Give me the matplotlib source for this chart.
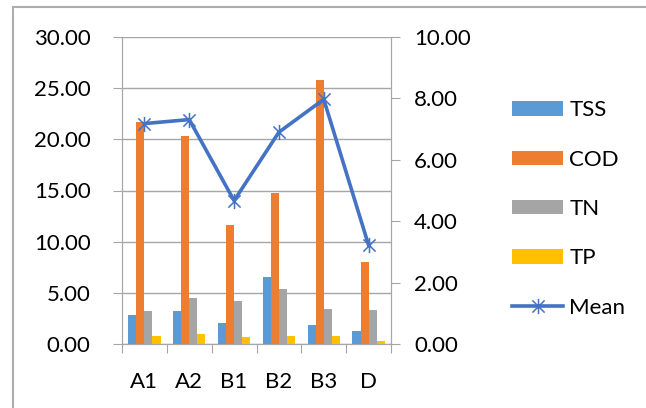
import matplotlib
matplotlib.use("Agg")
import matplotlib.pyplot as plt
import numpy as np
from matplotlib.path import Path
from matplotlib.lines import Line2D

categories = ["A1", "A2", "B1", "B2", "B3", "D"]
tss = [2.83, 3.22, 2.05, 6.51, 1.85, 1.30]
cod = [21.70, 20.34, 11.58, 14.71, 25.80, 7.97]
tn = [3.22, 4.46, 4.17, 5.40, 3.42, 3.29]
tp = [0.78, 1.01, 0.68, 0.81, 0.78, 0.26]
mean = [7.18, 7.31, 4.67, 6.90, 7.97, 3.22]
left_ticks = [0, 5, 10, 15, 20, 25, 30]
right_ticks = [0, 2, 4, 6, 8, 10]

plt.rcParams['font.family'] = ['Lato', 'DejaVu Sans']
plt.rcParams['xtick.major.size'] = 0
plt.rcParams['xtick.major.pad'] = 20
FS = 16
GRID = '#A6A6A6'

W, H = 646, 408
fig = plt.figure(figsize=(W / 100, H / 100), dpi=100)
ax = fig.add_axes([122 / W, 1 - 344 / H, (391 - 122) / W, (344 - 37) / H])

x = np.arange(len(categories))
bw = 0.18
series = [(tss, '#5B9BD5', 'TSS'), (cod, '#ED7D31', 'COD'),
          (tn, '#A5A5A5', 'TN'), (tp, '#FFC000', 'TP')]
offs = [-0.27, -0.09, 0.09, 0.27]
handles = []
for (vals, col, lab), o in zip(series, offs):
    b = ax.bar(x + o, vals, bw, color=col, label=lab, zorder=3)
    handles.append(b)

ax2 = ax.twinx()
star = Path([(0, -1), (0, 1), (-0.8, -0.8), (0.8, 0.8), (-0.8, 0.8), (0.8, -0.8)],
            [Path.MOVETO, Path.LINETO, Path.MOVETO, Path.LINETO, Path.MOVETO, Path.LINETO])
ln, = ax2.plot(x, mean, color='#4472C4', lw=2.6, marker=star, markersize=11,
               markeredgewidth=1.1, markeredgecolor='#4472C4', label='Mean', zorder=4)
ax2.set_ylim(0, 10)
ax2.set_yticks(right_ticks)
ax2.set_yticklabels([f"{v:.2f}" for v in right_ticks], fontsize=FS)
ax2.tick_params(axis='y', direction='out', length=6.5, width=0.8, color=GRID, pad=10)
for s in ['left', 'bottom', 'right']:
    ax2.spines[s].set_color(GRID)
    ax2.spines[s].set_linewidth(0.8)
ax2.spines['top'].set_visible(False)

ax.set_xlim(-0.5, len(categories) - 0.5)
ax.set_ylim(0, 30)
ax.set_yticks(left_ticks)
ax.set_yticklabels([f"{v:.2f}" for v in left_ticks], fontsize=FS)
ax.yaxis.grid(True, color=GRID, lw=1.0, zorder=0)
ax.set_axisbelow(True)
ax.tick_params(axis='y', direction='out', length=6.5, width=0.8, color=GRID, pad=16)
ax.set_xticks(x)
ax.set_xticklabels(categories, fontsize=FS)
ax.set_xticks(np.arange(len(categories) + 1) - 0.5, minor=True)
ax.tick_params(axis='x', which='minor', direction='out', length=6.5, width=0.8, color=GRID)
ax.tick_params(axis='x', which='major', length=0, pad=20)
for s in ['left', 'bottom', 'right']:
    ax.spines[s].set_color(GRID)
    ax.spines[s].set_linewidth(0.8)
ax.spines['top'].set_visible(False)

leg = fig.legend(handles + [ln], ['TSS', 'COD', 'TN', 'TP', 'Mean'],
                 loc='center left', bbox_to_anchor=(512 / W, 1 - 209 / H),
                 frameon=False, fontsize=FS, borderpad=0, borderaxespad=0,
                 handlelength=2.3, handleheight=0.63, handletextpad=0.28,
                 labelspacing=1.32)

# figure border (top and left visible)
fig.add_artist(Line2D([13 / W, 13 / W], [0, 1 - 7 / H], transform=fig.transFigure,
                      color='#ADADAD', lw=1.5))
fig.add_artist(Line2D([13 / W, 1], [1 - 7 / H, 1 - 7 / H], transform=fig.transFigure,
                      color='#ADADAD', lw=1.5))

fig.savefig('out.png', dpi=100)
